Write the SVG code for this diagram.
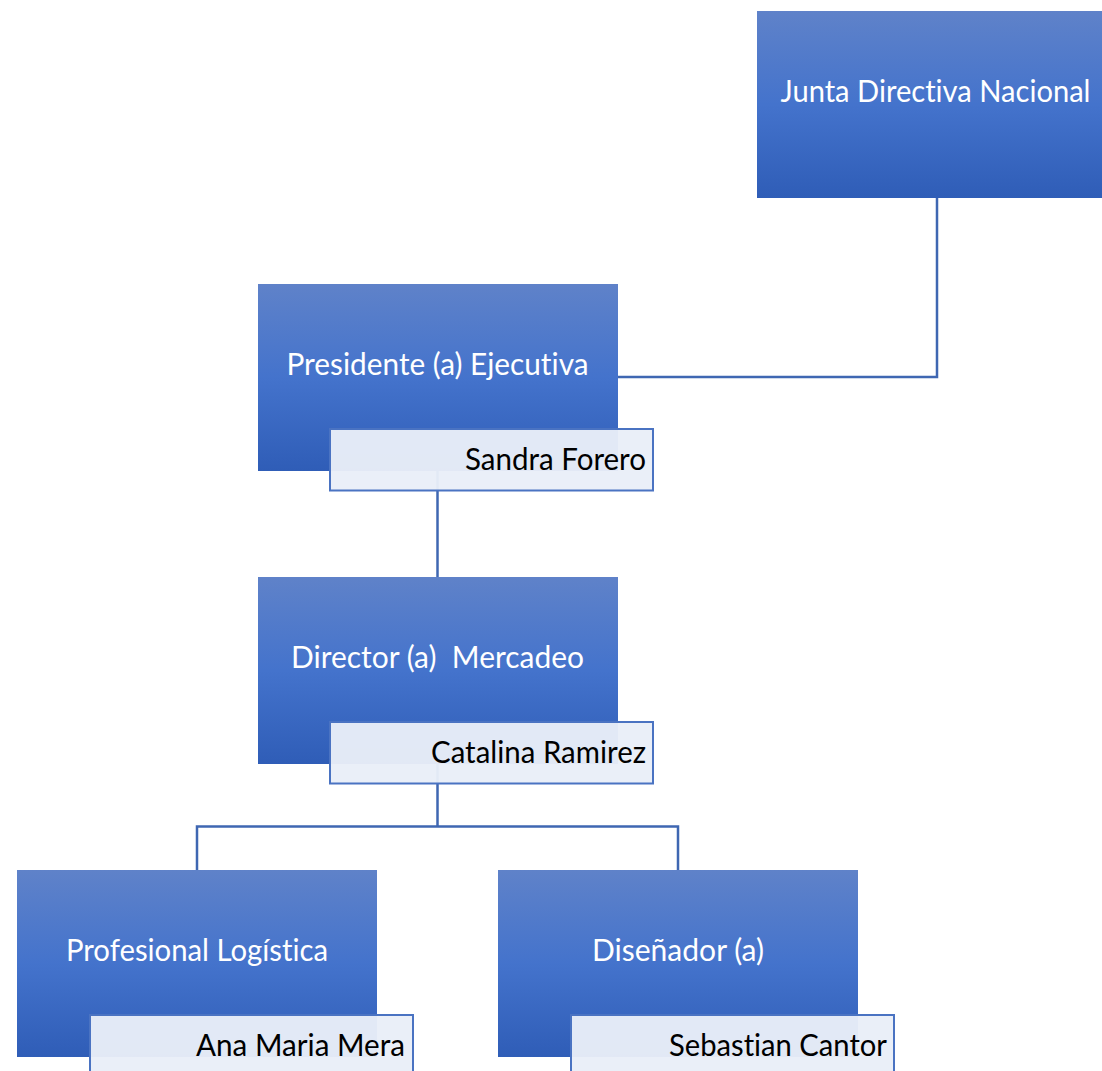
<svg xmlns="http://www.w3.org/2000/svg" width="1102" height="1071" viewBox="0 0 1102 1071">
<defs>
<linearGradient id="g" x1="0" y1="0" x2="0" y2="1">
<stop offset="0" stop-color="#5f82c9"/>
<stop offset="0.5" stop-color="#4473cc"/>
<stop offset="1" stop-color="#2f5db7"/>
</linearGradient>
<style>
.box{fill:url(#g);}
.name{fill:#e9eef8;fill-opacity:0.96;stroke:#4a73c2;stroke-width:2;}
.lbl{font-family:Lato,"Open Sans","Liberation Sans",sans-serif;font-size:30px;fill:#ffffff;text-anchor:middle;font-variant-ligatures:none;}
.nm{font-family:Lato,"Open Sans","Liberation Sans",sans-serif;font-size:30px;fill:#000000;text-anchor:end;font-variant-ligatures:none;}
.conn{fill:none;stroke:#3f67b2;stroke-width:2.5;}
</style>
</defs>
<rect width="1102" height="1071" fill="#ffffff"/>
<g id="connectors">
<path class="conn" d="M937 197 V377 H618"/>
<path class="conn" d="M437.5 470 V577"/>
<path class="conn" d="M437.5 763 V826.5 M197 870 V826.5 H678 V870"/>
</g>
<g id="junta">
<rect class="box" x="757" y="11" width="345" height="187"/>
<text class="lbl" x="935.5" y="102" textLength="310" lengthAdjust="spacingAndGlyphs">Junta Directiva Nacional</text>
</g>
<g id="presidente">
<rect class="box" x="258" y="284" width="360" height="187"/>
<text class="lbl" x="437.5" y="375" textLength="302" lengthAdjust="spacingAndGlyphs">Presidente (a) Ejecutiva</text>
<rect class="name" x="330" y="429" width="323" height="61.5"/>
<text class="nm" x="646" y="470" textLength="181" lengthAdjust="spacingAndGlyphs">Sandra Forero</text>
</g>
<g id="director">
<rect class="box" x="258" y="577" width="360" height="187"/>
<text class="lbl" x="437.5" y="668" textLength="293" lengthAdjust="spacingAndGlyphs" xml:space="preserve">Director (a)  Mercadeo</text>
<rect class="name" x="330" y="722" width="323" height="61.5"/>
<text class="nm" x="646" y="763" textLength="215" lengthAdjust="spacingAndGlyphs">Catalina Ramirez</text>
</g>
<g id="profesional">
<rect class="box" x="17" y="870" width="360" height="187"/>
<text class="lbl" x="197" y="961" textLength="262" lengthAdjust="spacingAndGlyphs">Profesional Logística</text>
<rect class="name" x="90" y="1015" width="323" height="61.5"/>
<text class="nm" x="405" y="1056" textLength="209" lengthAdjust="spacingAndGlyphs">Ana Maria Mera</text>
</g>
<g id="disenador">
<rect class="box" x="498" y="870" width="360" height="187"/>
<text class="lbl" x="678" y="961" textLength="172" lengthAdjust="spacingAndGlyphs">Diseñador (a)</text>
<rect class="name" x="571" y="1015" width="323" height="61.5"/>
<text class="nm" x="887" y="1056" textLength="218" lengthAdjust="spacingAndGlyphs">Sebastian Cantor</text>
</g>
</svg>
